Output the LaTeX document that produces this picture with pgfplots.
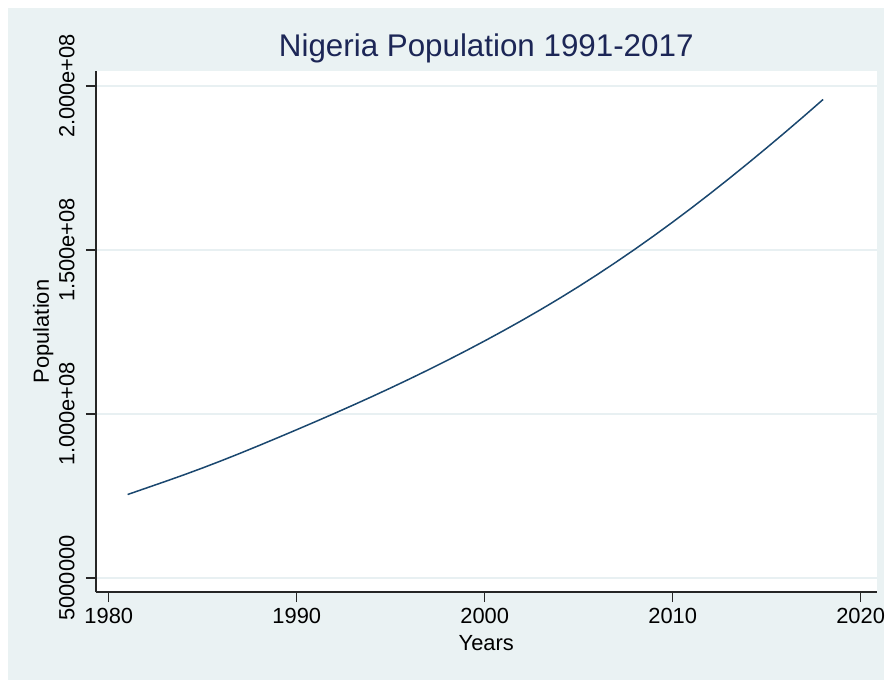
\documentclass[border=0pt]{standalone}
\usepackage{pgfplots}
\pgfplotsset{compat=1.18}
\usepackage{fontspec}
\setmainfont{Liberation Sans}
\definecolor{bgc}{RGB}{234,242,243}
\definecolor{gridc}{RGB}{232,240,242}
\definecolor{linec}{RGB}{26,71,111}
\definecolor{ttlc}{RGB}{28,38,86}
\begin{document}
\begin{tikzpicture}[x=1bp,y=1bp]
\path[fill=white] (0,0) rectangle (885,681);
\fill[bgc] (8,0) rectangle (885,673);
\begin{axis}[
  at={(96bp,88bp)}, anchor=south west,
  scale only axis, width=782bp, height=522bp,
  xmin=1979.31, xmax=2020.85, ymin=4.57e7, ymax=2.046e8,
  axis x line*=bottom, axis y line*=left,
  axis line style={line width=1.3bp, black!85, -},
  axis background/.style={fill=white},
  xtick={1980,1990,2000,2010,2020},
  xticklabels={1980,1990,2000,2010,2020},
  ytick={5e7,1e8,1.5e8,2e8},
  yticklabels={5000000,1.000e+08,1.500e+08,2.000e+08},
  tick align=outside, major tick length=10bp,
  tick style={line width=1.3bp, black!85},
  ymajorgrids, grid style={line width=1.3bp, gridc},
  xticklabel style={font=\fontsize{22}{26}\selectfont, inner sep=0pt, anchor=north, yshift=-6bp},
  yticklabel style={font=\fontsize{22}{26}\selectfont, rotate=90, inner sep=0pt, anchor=south, yshift=11bp},
  scaled ticks=false,
  title={Nigeria Population 1991-2017},
  title style={font=\fontsize{31.5}{36}\selectfont, color=ttlc, at={(rel axis cs:0.5,1)}, anchor=base, inner sep=0pt, yshift=8bp},
  xlabel={Years},
  xlabel style={font=\fontsize{22}{26}\selectfont, at={(rel axis cs:0.5,0)}, anchor=base, inner sep=0pt, yshift=-59bp},
  ylabel={Population},
  ylabel style={font=\fontsize{22}{26}\selectfont, at={(rel axis cs:0,0.5)}, anchor=base, inner sep=0pt, yshift=47bp},
  clip=false,
]
\addplot[color=linec, line width=1.5bp, mark=none] coordinates {
(1981,75440502) (1982,77427546) (1983,79414841) (1984,81448755)
(1985,83562785) (1986,85766399) (1987,88048032) (1988,90395271)
(1989,92788027) (1990,95212450) (1991,97667632) (1992,100161710)
(1993,102700753) (1994,105293700) (1995,107948335) (1996,110668794)
(1997,113457663) (1998,116319759) (1999,119260063) (2000,122283850)
(2001,125394046) (2002,128596076) (2003,131900631) (2004,135320422)
(2005,138865016) (2006,142538308) (2007,146339977) (2008,150269623)
(2009,154324933) (2010,158503197) (2011,162805071) (2012,167228767)
(2013,171765769) (2014,176404902) (2015,181137448) (2016,185960289)
(2017,190873311) (2018,195874740)
};
\end{axis}
\end{tikzpicture}
\end{document}
